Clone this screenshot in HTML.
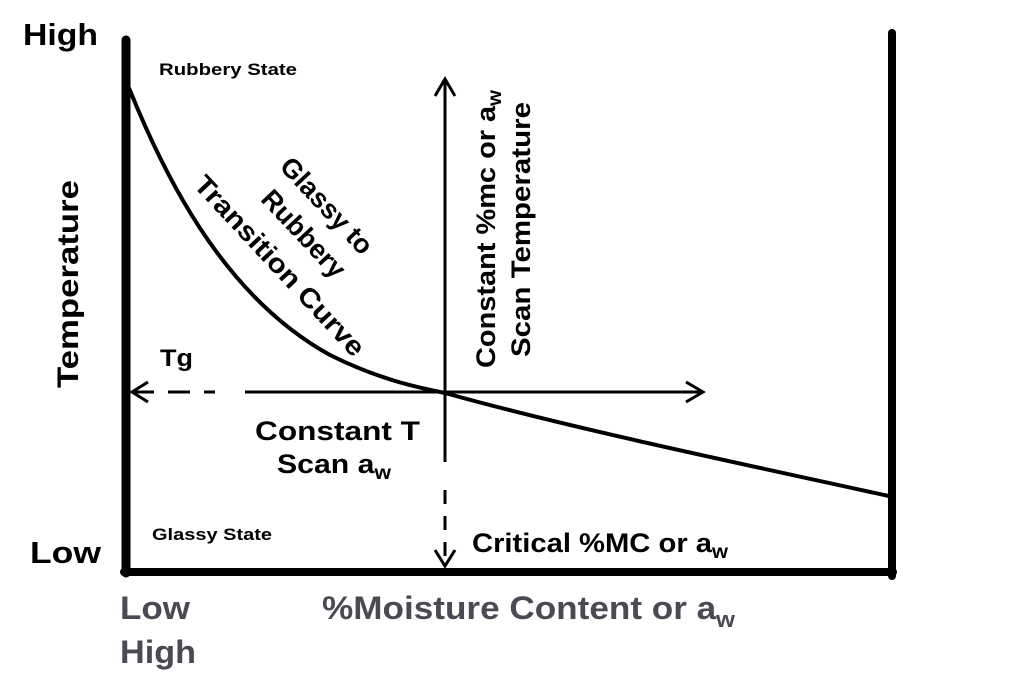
<!DOCTYPE html>
<html><head><meta charset="utf-8"><style>
html,body{margin:0;padding:0;background:#fff}
svg{display:block}
text{font-family:"Liberation Sans",Arial,sans-serif;font-weight:bold;fill:#000}
.g{fill:#4a4a52}
</style></head><body>
<svg width="1024" height="693" viewBox="0 0 1024 693">
<g stroke="#000" fill="none" stroke-linecap="round">
<line x1="126" y1="40" x2="126" y2="573" stroke-width="9"/>
<line x1="124" y1="572" x2="893" y2="572" stroke-width="8"/>
<line x1="892" y1="33" x2="892" y2="576" stroke-width="8"/>
</g>
<path d="M129,88 C170,190 230,300 330,355 C380,380 420,388 445,393 C560,425 700,455 889,496" stroke="#000" stroke-width="4" fill="none"/>
<g stroke="#000" stroke-width="3" fill="none">
<line x1="132" y1="392" x2="215" y2="392" stroke-dasharray="22,14"/>
<line x1="245" y1="392" x2="702" y2="392"/>
<polyline points="148,382 132,392 148,402"/>
<polyline points="686,382 703,392 686,402"/>
<line x1="445" y1="80" x2="445" y2="462"/>
<polyline points="435,96 445,79 455,96"/>
<line x1="445" y1="490" x2="445" y2="563" stroke-dasharray="14,12"/>
<polyline points="435,550 445,566 455,550"/>
</g>
<text x="23" y="45" font-size="31" textLength="75" lengthAdjust="spacingAndGlyphs">High</text>
<text x="30" y="563" font-size="31" textLength="71" lengthAdjust="spacingAndGlyphs">Low</text>
<text transform="translate(78,388) rotate(-90)" font-size="30" textLength="208" lengthAdjust="spacingAndGlyphs">Temperature</text>
<text x="159" y="75" font-size="17" textLength="138" lengthAdjust="spacingAndGlyphs">Rubbery State</text>
<text x="152" y="540" font-size="17" textLength="120" lengthAdjust="spacingAndGlyphs">Glassy State</text>
<text x="160" y="366" font-size="24" textLength="33" lengthAdjust="spacingAndGlyphs">Tg</text>
<text x="255" y="440" font-size="27" textLength="165" lengthAdjust="spacingAndGlyphs">Constant T</text>
<text x="277" y="473" font-size="27" textLength="114" lengthAdjust="spacingAndGlyphs">Scan a<tspan font-size="19" dy="6">w</tspan></text>
<text x="472" y="552" font-size="27" textLength="256" lengthAdjust="spacingAndGlyphs">Critical %MC or a<tspan font-size="19" dy="6">w</tspan></text>
<text transform="translate(495,368) rotate(-90)" font-size="27" textLength="278" lengthAdjust="spacingAndGlyphs">Constant %mc or a<tspan font-size="19" dy="6">w</tspan></text>
<text transform="translate(530,357) rotate(-90)" font-size="27" textLength="255" lengthAdjust="spacingAndGlyphs">Scan Temperature</text>
<g transform="translate(320,212) rotate(47)"><text text-anchor="middle" font-size="27">Glassy to</text></g>
<g transform="translate(297,240) rotate(47)"><text text-anchor="middle" font-size="27">Rubbery</text></g>
<g transform="translate(273,272) rotate(47)"><text text-anchor="middle" font-size="27" textLength="236" lengthAdjust="spacingAndGlyphs">Transition Curve</text></g>
<text class="g" x="120" y="619" font-size="32" textLength="70" lengthAdjust="spacingAndGlyphs">Low</text>
<text class="g" x="120" y="663" font-size="32" textLength="76" lengthAdjust="spacingAndGlyphs">High</text>
<text class="g" x="322" y="619" font-size="32" textLength="413" lengthAdjust="spacingAndGlyphs">%Moisture Content or a<tspan font-size="22" dy="8">w</tspan></text>
</svg>
</body></html>
